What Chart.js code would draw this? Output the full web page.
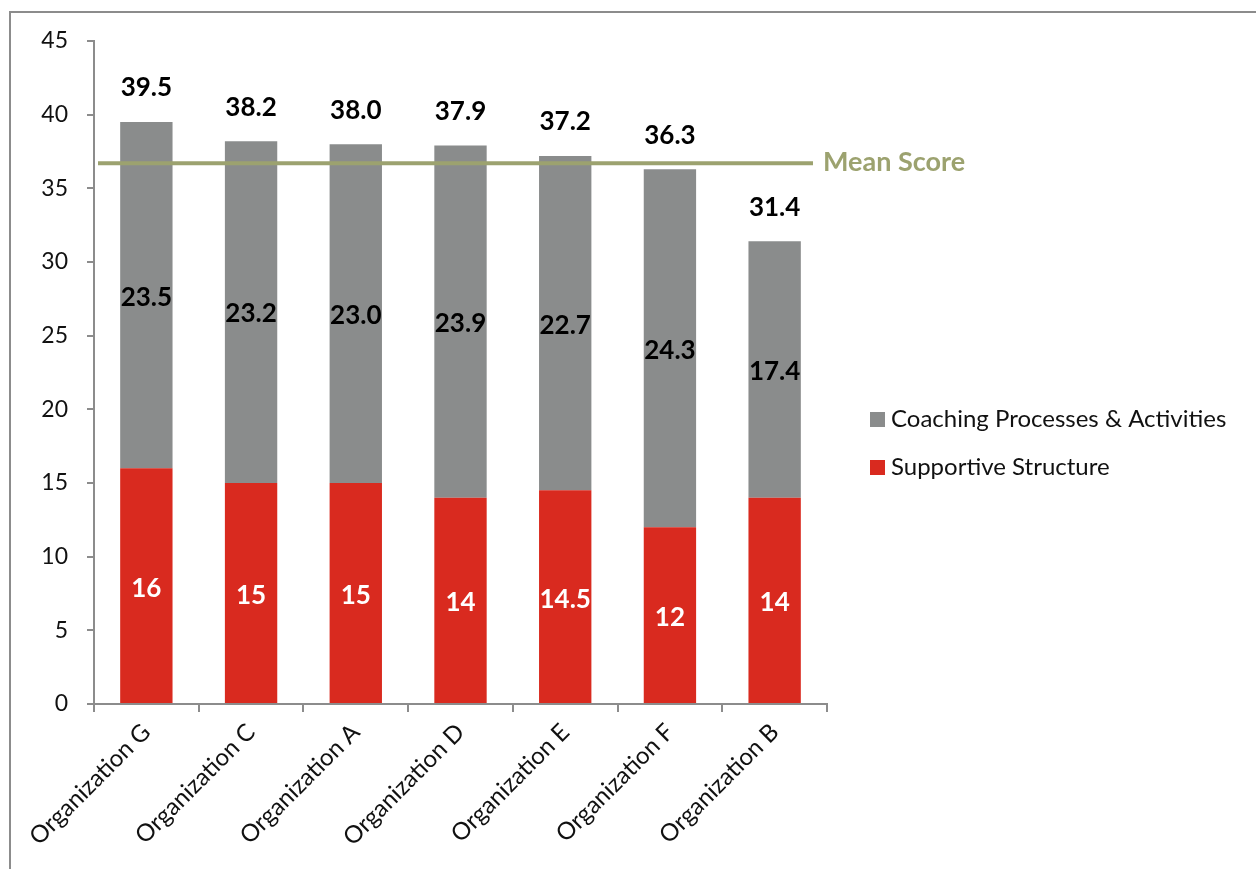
<!DOCTYPE html>
<html>
<head>
<meta charset="utf-8">
<script src="https://cdn.jsdelivr.net/npm/chart.js@4"></script>
<style>
  html, body { margin: 0; padding: 0; background: #fff; }
  #wrap { position: relative; width: 1256px; height: 869px; }
</style>
</head>
<body>
<div id="wrap"><canvas id="c" width="1256" height="869"></canvas></div>
<script>
// Organisations, ordered by total score
const categories = ['Organization G', 'Organization C', 'Organization A', 'Organization D', 'Organization E', 'Organization F', 'Organization B'];
// Score components
const supportiveStructure = [16, 15, 15, 14, 14.5, 12, 14];
const coachingProcesses = [23.5, 23.2, 23.0, 23.9, 22.7, 24.3, 17.4];
// Total score shown above each bar
const totalScores = [39.5, 38.2, 38.0, 37.9, 37.2, 36.3, 31.4];
// Mean score reference line
const meanScore = 36.7;
const meanLabel = 'Mean Score';
// Y axis ticks
const yTicks = [0, 5, 10, 15, 20, 25, 30, 35, 40, 45];

const RED = '#d92a1f';
const GREY = '#8a8c8c';
const OLIVE = '#9ca26f';
const AXIS = '#8c8c8c';
const FONT = 'Lato, "Open Sans", sans-serif';

// Outer frame of the chart
const framePlugin = {
  id: 'frame',
  beforeDraw(chart) {
    const ctx = chart.ctx;
    ctx.save();
    ctx.strokeStyle = AXIS;
    ctx.lineWidth = 2;
    ctx.beginPath();
    ctx.moveTo(10, chart.height);
    ctx.lineTo(10, 12);
    ctx.lineTo(chart.width, 12);
    ctx.stroke();
    ctx.restore();
  }
};

// Value labels inside the segments and totals above each stack
const labelPlugin = {
  id: 'valueLabels',
  afterDatasetsDraw(chart) {
    const ctx = chart.ctx;
    const y = chart.scales.y;
    ctx.save();
    ctx.textAlign = 'center';
    ctx.textBaseline = 'middle';
    ctx.font = 'bold 26px ' + FONT;
    chart.data.datasets.forEach((ds, di) => {
      const meta = chart.getDatasetMeta(di);
      ctx.fillStyle = di === 0 ? '#ffffff' : '#000000';
      meta.data.forEach((bar, i) => {
        const base = di === 0 ? 0 : supportiveStructure[i];
        const mid = y.getPixelForValue(base + ds.data[i] / 2);
        const txt = di === 0 ? String(ds.data[i]) : ds.data[i].toFixed(1);
        ctx.fillText(txt, bar.x, mid + 2);
      });
    });
    ctx.fillStyle = '#000000';
    const topMeta = chart.getDatasetMeta(1);
    topMeta.data.forEach((bar, i) => {
      const py = y.getPixelForValue(totalScores[i]);
      ctx.fillText(totalScores[i].toFixed(1), bar.x, py - 34);
    });
    ctx.restore();
  }
};

// Mean score reference line with its label
const meanPlugin = {
  id: 'meanLine',
  afterDatasetsDraw(chart) {
    const ctx = chart.ctx;
    const area = chart.chartArea;
    const py = chart.scales.y.getPixelForValue(meanScore);
    ctx.save();
    ctx.strokeStyle = OLIVE;
    ctx.lineWidth = 4;
    ctx.beginPath();
    ctx.moveTo(area.left + 4, py);
    ctx.lineTo(area.right - 14, py);
    ctx.stroke();
    ctx.fillStyle = OLIVE;
    ctx.font = 'bold 27px ' + FONT;
    ctx.textAlign = 'left';
    ctx.textBaseline = 'middle';
    ctx.fillText(meanLabel, area.right - 4, py - 1);
    ctx.restore();
  }
};

// Legend at the right, top series first
const legendPlugin = {
  id: 'sideLegend',
  afterDraw(chart) {
    const ctx = chart.ctx;
    const area = chart.chartArea;
    const x = area.right + 43;
    const items = chart.data.datasets.slice().reverse();
    ctx.save();
    ctx.font = '24px ' + FONT;
    ctx.textAlign = 'left';
    ctx.textBaseline = 'middle';
    items.forEach((ds, k) => {
      const cy = 419 + k * 48;
      ctx.fillStyle = ds.backgroundColor;
      ctx.fillRect(x, cy - 7, 15, 15);
      ctx.fillStyle = '#111111';
      ctx.fillText(ds.label, x + 21, cy);
    });
    ctx.restore();
  }
};

new Chart(document.getElementById('c'), {
  type: 'bar',
  data: {
    labels: categories,
    datasets: [
      { label: 'Supportive Structure', data: supportiveStructure, backgroundColor: RED, borderWidth: 0 },
      { label: 'Coaching Processes & Activities', data: coachingProcesses, backgroundColor: GREY, borderWidth: 0 }
    ]
  },
  options: {
    responsive: false,
    animation: false,
    events: [],
    layout: { padding: { top: 41, right: 429, bottom: 0, left: 0 } },
    datasets: { bar: { categoryPercentage: 1.0, barPercentage: 0.5 } },
    plugins: { legend: { display: false }, tooltip: { enabled: false } },
    scales: {
      x: {
        stacked: true,
        afterFit(scale) { scale.height = 165; },
        grid: { drawOnChartArea: false, drawTicks: true, tickLength: 8, color: AXIS, lineWidth: 2, offset: true },
        border: { color: AXIS, width: 2 },
        ticks: { minRotation: 45, maxRotation: 45, padding: 6, color: '#111111', font: { family: FONT, size: 24 } }
      },
      y: {
        stacked: true,
        min: 0,
        max: 45,
        afterFit(scale) { scale.width = 94; },
        afterBuildTicks(scale) { scale.ticks = yTicks.map(v => ({ value: v })); },
        grid: { drawOnChartArea: false, drawTicks: true, tickLength: 7, color: AXIS, lineWidth: 2 },
        border: { color: AXIS, width: 2 },
        ticks: { padding: 19, color: '#111111', font: { family: FONT, size: 23 } }
      }
    }
  },
  plugins: [framePlugin, labelPlugin, meanPlugin, legendPlugin]
});
</script>
</body>
</html>
